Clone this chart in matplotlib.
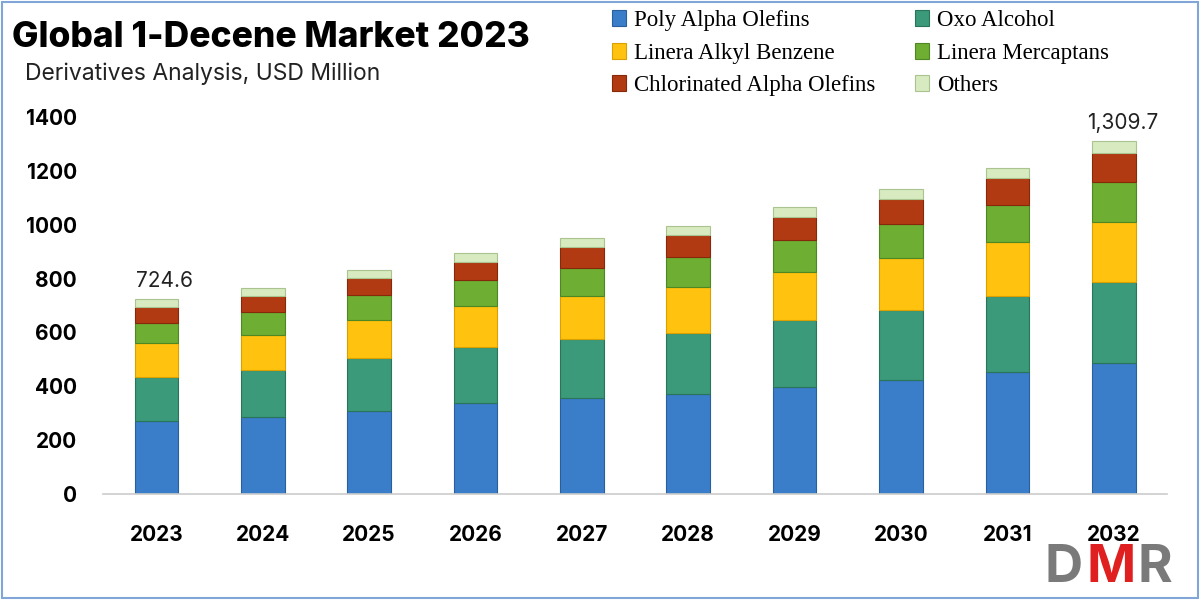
import numpy as np
import matplotlib.pyplot as plt
from matplotlib.patches import Patch, Rectangle

# Données (USD Million)
annees = ["2023", "2024", "2025", "2026", "2027", "2028", "2029", "2030", "2031", "2032"]
poly_alpha = [270, 287, 308, 337, 355, 370, 398, 423, 454, 488]
oxo_alcool = [166, 173, 196, 208, 219, 229, 248, 260, 282, 300]
alkyl_benzene = [124, 132, 142, 153, 161, 171, 177, 192, 201, 223]
mercaptans = [76, 84, 93, 97, 105, 109, 120, 126, 136, 149]
chlorinated = [60, 60, 64, 68, 78, 83, 87, 93, 99, 105]
autres = [28.6, 28, 29, 33, 31, 34, 35, 37, 37, 44.7]

series = [
    ("Poly Alpha Olefins", poly_alpha, "#3A7DC9", "#2A5F9E"),
    ("Oxo Alcohol", oxo_alcool, "#3A9A7A", "#2A7459"),
    ("Linera Alkyl Benzene", alkyl_benzene, "#FFC20E", "#D9A000"),
    ("Linera Mercaptans", mercaptans, "#6DAE33", "#4F8722"),
    ("Chlorinated Alpha Olefins", chlorinated, "#B23A12", "#86290A"),
    ("Others", autres, "#D8EBC0", "#A9C48E"),
]

annotations = {0: "724.6", 9: "1,309.7"}

fig = plt.figure(figsize=(12, 6), dpi=100)
ax = fig.add_axes([0.086, 0.1767, 0.8865, 0.6283])

x = np.arange(len(annees))
bas = np.zeros(len(annees))
for nom, valeurs, couleur, bord in series:
    ax.bar(x, valeurs, width=0.41, bottom=bas, color=couleur,
           edgecolor=bord, linewidth=0.8, label=nom)
    bas += np.array(valeurs)

# Valeurs totales au-dessus des barres
for i, texte in annotations.items():
    ax.text(x[i] + 0.08, bas[i] + 30, texte, ha="center", va="bottom",
            fontsize=15, family="Inter", color="#222222")

ax.set_xlim(-0.5, len(annees) - 0.5)
ax.set_ylim(0, 1400)
ax.set_yticks(range(0, 1401, 200))
ax.set_xticks(x)
ax.set_xticklabels(annees)
ax.tick_params(axis="both", length=0)
ax.tick_params(axis="y", pad=19)
ax.tick_params(axis="x", pad=22)
for lab in ax.get_xticklabels() + ax.get_yticklabels():
    lab.set_family("Inter")
    lab.set_fontweight("bold")
    lab.set_fontsize(15)
for cote in ["top", "right", "left"]:
    ax.spines[cote].set_visible(False)
ax.spines["bottom"].set_color("#CCCCCC")
ax.spines["bottom"].set_linewidth(1.2)

# Titres
fig.text(0.010, 0.938, "Global 1-Decene Market 2023", fontsize=25.5,
         fontweight="heavy", family="Inter", va="center", ha="left")
fig.text(0.021, 0.877, "Derivatives Analysis, USD Million", fontsize=16.5,
         family="Inter", va="center", ha="left", color="#222222")

# Légende
poignees = [Patch(facecolor=c, edgecolor=b, linewidth=0.8) for _, _, c, b in series]
noms = [s[0] for s in series]
ordre = [0, 2, 4, 1, 3, 5]
fig.legend([poignees[i] for i in ordre], [noms[i] for i in ordre],
           loc="upper left", bbox_to_anchor=(0.493, 1.017), ncol=2, frameon=False,
           prop={"family": "Liberation Serif", "size": 16.5},
           handlelength=0.62, handleheight=0.7, handletextpad=0.35,
           columnspacing=1.72, labelspacing=0.5)

# Logo DMR
fig.text(0.870, 0.03, "D", fontsize=38, color="#7A7A7A", family="Inter", fontweight="bold")
fig.text(0.905, 0.03, "M", fontsize=38, color="#E02020", family="Inter", fontweight="bold")
fig.text(0.948, 0.03, "R", fontsize=38, color="#7A7A7A", family="Inter", fontweight="bold")

# Cadre fin
fig.patches.append(Rectangle((0.002, 0.003), 0.996, 0.994, transform=fig.transFigure,
                             fill=False, edgecolor="#7FA6D6", linewidth=1.5))

fig.savefig("out.png", dpi=100)
